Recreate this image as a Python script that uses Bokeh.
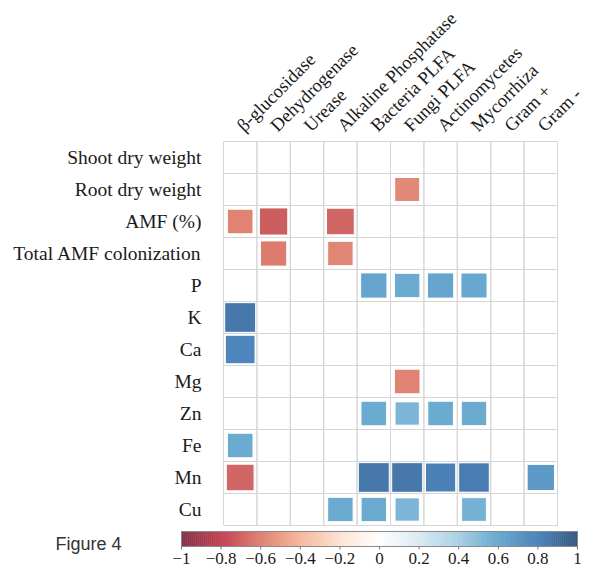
import numpy as np
from bokeh.plotting import figure
from bokeh.models import Range1d, ColumnDataSource, LinearColorMapper
from bokeh.transform import transform
from bokeh.embed import file_html
from bokeh.resources import INLINE
from bokeh.core.properties import value

# ---------------- data ----------------
columns = ["β-glucosidase", "Dehydrogenase", "Urease", "Alkaline Phosphatase",
           "Bacteria PLFA", "Fungi PLFA", "Actinomycetes", "Mycorrhiza",
           "Gram +", "Gram -"]
rows = ["Shoot dry weight", "Root dry weight", "AMF (%)", "Total AMF colonization",
        "P", "K", "Ca", "Mg", "Zn", "Fe", "Mn", "Cu"]

shoot_dry_weight = [0, 0, 0, 0, 0, 0, 0, 0, 0, 0]
root_dry_weight = [0, 0, 0, 0, 0, -0.56, 0, 0, 0, 0]
amf_pct = [-0.59, -0.72, 0, -0.69, 0, 0, 0, 0, 0, 0]
total_amf_colonization = [0, -0.62, 0, -0.58, 0, 0, 0, 0, 0, 0]
p_row = [0, 0, 0, 0, 0.62, 0.58, 0.62, 0.61, 0, 0]
k_row = [0.86, 0, 0, 0, 0, 0, 0, 0, 0, 0]
ca_row = [0.79, 0, 0, 0, 0, 0, 0, 0, 0, 0]
mg_row = [0, 0, 0, 0, 0, -0.59, 0, 0, 0, 0]
zn_row = [0, 0, 0, 0, 0.59, 0.53, 0.59, 0.58, 0, 0]
fe_row = [0.59, 0, 0, 0, 0, 0, 0, 0, 0, 0]
mn_row = [-0.69, 0, 0, 0, 0.86, 0.86, 0.82, 0.84, 0, 0.67]
cu_row = [0, 0, 0, 0.58, 0.58, 0.53, 0, 0.55, 0, 0]

row_values = [shoot_dry_weight, root_dry_weight, amf_pct, total_amf_colonization,
              p_row, k_row, ca_row, mg_row, zn_row, fe_row, mn_row, cu_row]

colorbar_ticks = [-1, -0.8, -0.6, -0.4, -0.2, 0, 0.2, 0.4, 0.6, 0.8, 1]
colorbar_tick_labels = ["\u22121", "\u22120.8", "\u22120.6", "\u22120.4", "\u22120.2",
                        "0", "0.2", "0.4", "0.6", "0.8", "1"]

figure_label = "Figure 4"

# ---------------- palette (corrplot RdBu ramp, slightly washed like the print) ----------------
anchors = ["#67001F", "#B2182B", "#D6604D", "#F4A582", "#FDDBC7", "#FFFFFF",
           "#D1E5F0", "#92C5DE", "#4393C3", "#2166AC", "#053061"]


def ramp(hexes, n, wash=0.2):
    rgb = np.array([[int(h[i:i + 2], 16) for i in (1, 3, 5)] for h in hexes], float)
    t = np.linspace(0, 1, n)
    pos = np.linspace(0, 1, len(hexes))
    out = np.stack([np.interp(t, pos, rgb[:, k]) for k in range(3)], 1)
    out = out * (1 - wash) + 255 * wash
    return ["#%02x%02x%02x" % tuple(int(round(v)) for v in c) for c in out]


palette = ramp(anchors, 200)
mapper = LinearColorMapper(palette=palette, low=-1, high=1)

SERIF = "Liberation Serif"
TEXT_COLOR = "#1a1a1a"

# ---------------- layout constants (pixels inside the figure) ----------------
W, H = 585, 569
GX0, GY0 = 223.0, 141.0      # top-left corner of the grid
CW, CH = 33.4, 32.0          # cell size
ncols, nrows = len(columns), len(rows)
CB_X0, CB_X1 = 181.0, 577.0  # colour bar ends
CB_PX = (CB_X1 - CB_X0) / 2.0
BAR_TOP_PX, BAR_BOT_PX = 531, 546
TICK_LABEL_MID_PX = 558
FIG_LABEL_X_PX, FIG_LABEL_MID_PX = 55, 543

p = figure(width=W, height=H,
           x_range=Range1d(-GX0 / CW, (W - GX0) / CW),
           y_range=Range1d(nrows - (H - GY0) / CH, nrows + GY0 / CH),
           x_axis_location=None, y_axis_location=None,
           output_backend="svg", toolbar_location=None,
           min_border=0, outline_line_color=None)
p.grid.grid_line_color = None
p.extra_x_ranges = {"cb": Range1d(-1 - CB_X0 / CB_PX, 1 + (W - CB_X1) / CB_PX),
                    "px": Range1d(0, W)}
p.extra_y_ranges = {"px": Range1d(H, 0)}

# ---------------- grid + squares ----------------
grid_x, grid_y = [], []
sq_x, sq_y, sq_r, sq_s = [], [], [], []
for j, vals in enumerate(row_values):
    for i, v in enumerate(vals):
        grid_x.append(i + 0.5)
        grid_y.append(nrows - j - 0.5)
        if v != 0:
            sq_x.append(i + 0.5)
            sq_y.append(nrows - j - 0.5)
            sq_r.append(v)
            sq_s.append(float(np.sqrt(abs(v))))

p.rect(x="x", y="y", width=1, height=1, source=ColumnDataSource(dict(x=grid_x, y=grid_y)),
       fill_color=None, line_color="#d6d6d6", line_width=1)
p.rect(x="x", y="y", width="s", height="s",
       source=ColumnDataSource(dict(x=sq_x, y=sq_y, r=sq_r, s=sq_s)),
       fill_color=transform("r", mapper), line_color="white", line_width=1)

# ---------------- labels ----------------
p.text(x=[-22 / CW] * nrows, y=[nrows - j - 0.5 for j in range(nrows)], text=rows,
       text_font=value(SERIF), text_font_size="19.5px", text_align="right",
       text_baseline="middle", text_color=TEXT_COLOR)
p.text(x=[i + 0.5 for i in range(ncols)], y=[nrows + 13 / CH] * ncols, text=columns,
       angle=np.pi / 4, text_font=value(SERIF), text_font_size="18.5px",
       text_align="left", text_baseline="middle", text_color=TEXT_COLOR)

# ---------------- colour bar ----------------
edges = np.linspace(-1, 1, len(palette) + 1)
p.quad(left=edges[:-1], right=edges[1:], bottom=BAR_BOT_PX, top=BAR_TOP_PX,
       fill_color=palette, line_color=palette, line_width=0.6,
       x_range_name="cb", y_range_name="px")
p.quad(left=[-1], right=[1], bottom=[BAR_BOT_PX], top=[BAR_TOP_PX], fill_color=None,
       line_color="#8a8a8a", line_width=1, x_range_name="cb", y_range_name="px")
p.segment(x0=colorbar_ticks, y0=[BAR_BOT_PX] * len(colorbar_ticks), x1=colorbar_ticks,
          y1=[BAR_BOT_PX + 3] * len(colorbar_ticks), line_color="#777777", line_width=1,
          x_range_name="cb", y_range_name="px")
p.text(x=colorbar_ticks, y=[TICK_LABEL_MID_PX] * len(colorbar_ticks), text=colorbar_tick_labels,
       text_font=value(SERIF), text_font_size="17px", text_align="center",
       text_baseline="middle", text_color=TEXT_COLOR,
       x_range_name="cb", y_range_name="px")
p.text(x=[FIG_LABEL_X_PX], y=[FIG_LABEL_MID_PX], text=[figure_label],
       text_font=value("Liberation Sans"), text_font_size="18px",
       text_align="left", text_baseline="middle", text_color="#333333",
       x_range_name="px", y_range_name="px")

open("out.html", "w").write(file_html(p, INLINE))
